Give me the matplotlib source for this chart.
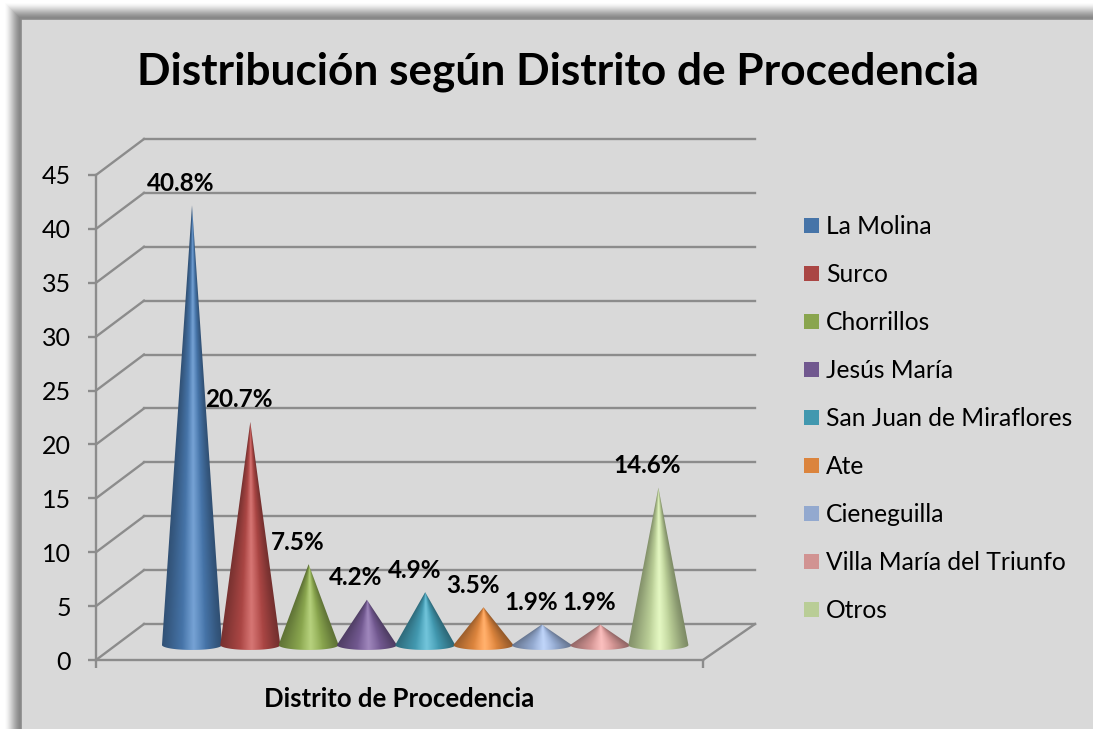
import numpy as np
import matplotlib
matplotlib.use("Agg")
import matplotlib.pyplot as plt
from matplotlib.patches import Rectangle, Patch, Polygon
from matplotlib.transforms import Affine2D
from matplotlib.colors import to_rgb

categories = ["La Molina", "Surco", "Chorrillos", "Jesús María", "San Juan de Miraflores",
              "Ate", "Cieneguilla", "Villa María del Triunfo", "Otros"]
values = [40.8, 20.7, 7.5, 4.2, 4.9, 3.5, 1.9, 1.9, 14.6]
colors = ["#4674a8", "#aa4644", "#89a54e", "#71588f", "#4298af", "#db843d", "#93a9cf", "#d19392", "#b9cd96"]
yticks = [0, 5, 10, 15, 20, 25, 30, 35, 40, 45]
title = "Distribución según Distrito de Procedencia"
xlabel = "Distrito de Procedencia"

plt.rcParams["font.family"] = ["Lato", "DejaVu Sans"]
W, H = 1093, 729
fig = plt.figure(figsize=(W / 100, H / 100), dpi=100, facecolor="white")

# frame with shadow
bg = fig.add_axes([0, 0, 1, 1], zorder=0)
bg.set_xlim(0, W); bg.set_ylim(H, 0); bg.axis("off")
for k in range(15):
    bg.add_patch(Rectangle((5 + k, 3 + k), W + 50, H + 50, fc="#707070", ec="none", alpha=0.02 + 0.012 * k))
bg.add_patch(Rectangle((20.5, 18.5), W + 50, H + 50, fc="#d9d9d9", ec="#8a8a8a", lw=1.2))

# front plane of the 3D box
L, R, B, T = 96, 703, 660, 175
ax = fig.add_axes([L / W, 1 - B / H, (R - L) / W, (B - T) / H], zorder=1)
ax.patch.set_visible(False)
step = 58.3
first = 168.0
x0, x1 = (L - first) / step, (R - first) / step
ax.set_xlim(x0, x1)
ax.set_ylim(0, 45)
for s in ["top", "right"]:
    ax.spines[s].set_visible(False)
grey = "#8c8c8c"
lw = 1.7
for s in ["left", "bottom"]:
    ax.spines[s].set_color(grey)
    ax.spines[s].set_linewidth(lw)
ax.set_yticks(yticks)
ax.set_xticks([x0, x1])
ax.set_xticklabels(["", ""])
ax.tick_params(axis="both", color=grey, width=lw, length=6, labelsize=18, labelcolor="black", pad=12)
ax.set_xlabel(xlabel, fontsize=18.5, fontweight="bold", labelpad=1.5)

# walls
tback = ax.transData + Affine2D().translate(48, 36)
xb = x1 + 4 / step
for v in yticks:
    ax.plot([x0, xb], [v, v], color=grey, lw=lw, transform=tback, clip_on=False, zorder=1)
    px0 = ax.transData.transform((x0, v))
    fig.add_artist(plt.Line2D([px0[0], px0[0] + 48], [px0[1], px0[1] + 36], color=grey, lw=lw,
                              transform=None, zorder=1))
p = ax.transData.transform((x1, 0))
fig.add_artist(plt.Line2D([p[0], p[0] + 52], [p[1], p[1] + 36], color=grey, lw=lw, transform=None, zorder=1))

# cones
tcone = ax.transData + Affine2D().translate(24, 15)
hw, hh = 0.515, 0.46
th = np.linspace(np.pi, 2 * np.pi, 81)
for i, (v, c) in enumerate(zip(values, colors)):
    base = np.array(to_rgb(c))
    xs = np.linspace(-1, 1, 240)
    ys = np.linspace(v, -hh, 500)
    X, Y = np.meshgrid(xs, ys)
    frac = np.clip(1 - Y / v, 1e-3, 1)
    U = np.clip(X / frac, -1, 1)
    shade = np.interp((U + 1) / 2, [0, 0.1, 0.35, 0.52, 0.7, 0.9, 1],
                      [0.7, 0.78, 1.02, 1.2, 1.02, 0.76, 0.66])
    glow = np.clip(shade - 1, 0, None)[..., None] * 1.0
    rgb = np.clip(shade[..., None] * base, 0, 1)
    rgb = rgb + (1 - rgb) * glow
    im = ax.imshow(rgb, extent=(i - hw, i + hw, -hh, v), aspect="auto", interpolation="bilinear",
                   zorder=3 + i, clip_on=True)
    im.set_transform(tcone)
    outline = [(i, v)] + [(i + hw * np.cos(a), hh * np.sin(a)) for a in th]
    clip = Polygon(outline, closed=True, transform=tcone)
    im.set_clip_path(clip)
    ax.annotate(f"{v}%", xy=(i, v), xycoords=tcone, xytext=(-11, 22), textcoords="offset pixels",
                ha="center", va="center", fontsize=17.5, fontweight="bold", zorder=20, annotation_clip=False)
ax.set_xlim(x0, x1)
ax.set_ylim(0, 45)

fig.text(558 / W, 1 - 72 / H, title, ha="center", va="center", fontsize=31.8, fontweight="bold")

handles = [Patch(fc=c, ec="none") for c in colors]
fig.legend(handles, categories, loc="upper left", bbox_to_anchor=(782 / W, 1 - 193 / H), frameon=False,
           fontsize=17.7, handlelength=0.6, handleheight=0.6, handletextpad=0.3, labelspacing=1.017)

fig.savefig("out.png", dpi=100, facecolor="white")
